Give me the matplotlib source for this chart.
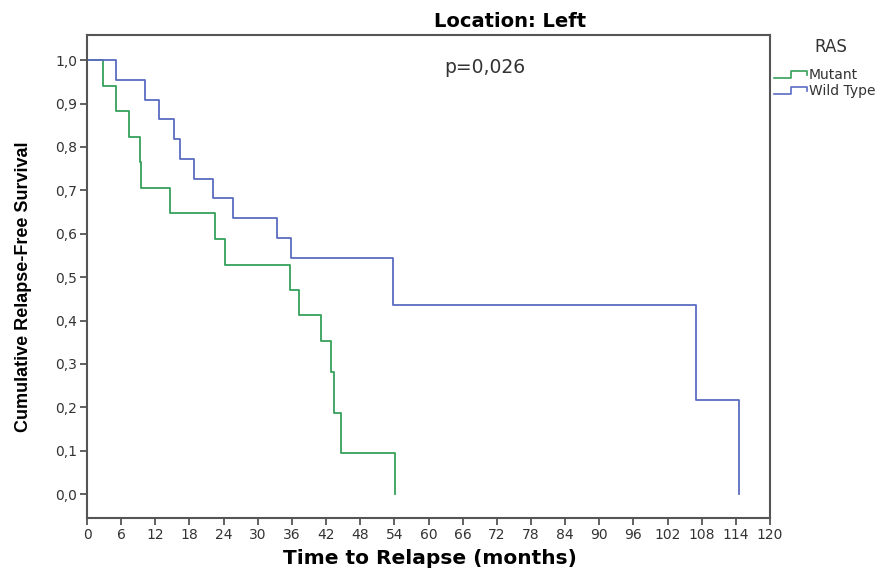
import matplotlib.pyplot as plt
from matplotlib.lines import Line2D

# Kaplan-Meier steps, relapse-free survival by RAS status
mutant_time = [0, 2.8, 5.1, 7.4, 9.3, 9.5, 14.6, 22.5, 24.3, 35.7, 37.3, 41.1, 42.9, 43.4, 44.6, 54.1]
mutant_surv = [1.0, 0.941, 0.882, 0.824, 0.765, 0.706, 0.647, 0.588, 0.529, 0.471, 0.412,
               0.353, 0.282, 0.188, 0.094, 0.0]
wild_time = [0, 5.1, 10.2, 12.7, 15.2, 16.3, 18.8, 22.1, 25.7, 33.4, 35.9, 53.8, 107.0, 114.6]
wild_surv = [1.0, 0.955, 0.909, 0.864, 0.818, 0.773, 0.727, 0.682, 0.636, 0.591, 0.545,
             0.436, 0.218, 0.0]

x_ticks = list(range(0, 121, 6))
y_ticks = [i / 10 for i in range(11)]
p_text = "p=0,026"

GREEN = '#35a05a'
BLUE = '#5a6cc2'
FRAME = '#555555'
TXT = '#333333'

plt.rcParams['font.family'] = ['DejaVu Sans']

fig = plt.figure(figsize=(8.89, 5.70), dpi=100)
ax = fig.add_axes([0.0979, 0.0912, 0.7683, 0.8474])

ax.step(mutant_time, mutant_surv, where='post', color=GREEN, lw=1.3)
ax.step(wild_time, wild_surv, where='post', color=BLUE, lw=1.3)

ax.set_xlim(0, 120)
ax.set_ylim(-0.055, 1.058)
ax.set_xticks(x_ticks)
ax.set_xticklabels([str(t) for t in x_ticks], fontsize=10, color=TXT)
ax.set_yticks(y_ticks)
ax.set_yticklabels([f"{v:.1f}".replace('.', ',') for v in y_ticks], fontsize=10, color=TXT)
ax.tick_params(axis='both', length=5, width=1.3, color=FRAME, pad=2)
for sp in ax.spines.values():
    sp.set_color(FRAME)
    sp.set_linewidth(1.5)

fig.text(0.484, 0.004, "Time to Relapse (months)", ha='center', va='bottom',
         fontweight='bold', fontsize=14.5)
fig.text(0.026, 0.4965, "Cumulative Relapse-Free Survival", rotation=90,
         ha='center', va='center', family='Liberation Sans', fontweight='bold',
         fontsize=13)

fig.text(0.574, 0.963, "Location: Left", ha='center', va='center',
         fontsize=14, fontweight='bold')
ax.text(0.583, 0.932, p_text, transform=ax.transAxes, ha='center', va='center',
        fontsize=13.5, color=TXT)

# legend drawn by hand with step-shaped keys
fig.text(0.934, 0.918, "RAS", ha='center', va='center', fontsize=12, color=TXT)
entries = [("Mutant", GREEN, 0.869), ("Wild Type", BLUE, 0.841)]
for label, color, y in entries:
    xs = [0.871, 0.890, 0.890, 0.908, 0.908]
    ys = [y - 0.006, y - 0.006, y + 0.006, y + 0.006, y]
    fig.add_artist(Line2D(xs, ys, color=color, lw=1.2, transform=fig.transFigure))
    fig.text(0.910, y, label, ha='left', va='center', fontsize=10, color=TXT)

fig.savefig('out.png', dpi=100)
